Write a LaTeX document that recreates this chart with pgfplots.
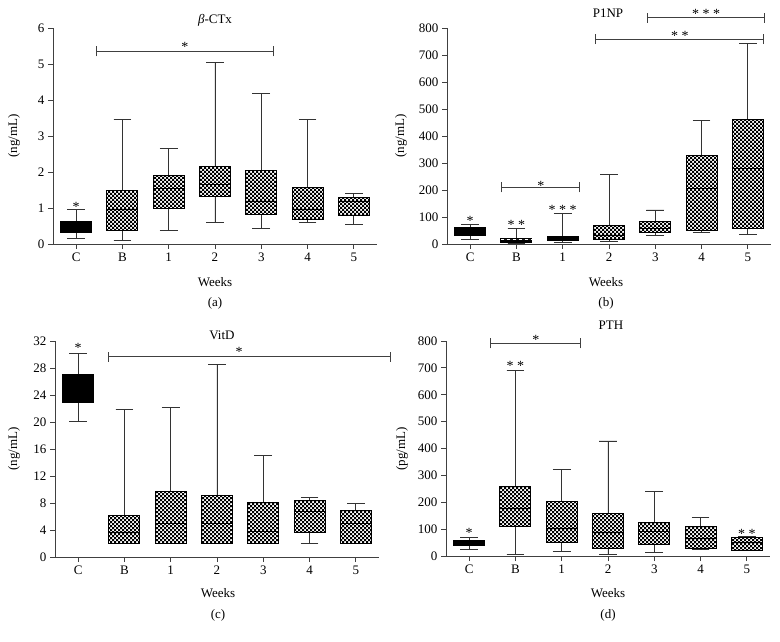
\documentclass[border=0pt]{standalone}
\usepackage{fontspec}
\setmainfont{Liberation Serif}
\usepackage{pgfplots}
\pgfplotsset{compat=1.18}
\usepgfplotslibrary{statistics}
\usetikzlibrary{patterns}

\pgfdeclarepatternformonly{chk2}{\pgfqpoint{-0.1pt}{-0.1pt}}{\pgfqpoint{4.1pt}{4.1pt}}{\pgfqpoint{4pt}{4pt}}{%
  \pgfpathrectangle{\pgfpointorigin}{\pgfqpoint{2pt}{2pt}}%
  \pgfpathrectangle{\pgfqpoint{2pt}{2pt}}{\pgfqpoint{2pt}{2pt}}%
  \pgfusepath{fill}}

\pgfplotsset{
  common/.style={
    scale only axis,
    axis x line*=bottom, axis y line*=left,
    tick align=outside,
    xtick={0,...,6}, xticklabels={C,B,1,2,3,4,5},
    major tick length=5pt,
    xmin=-0.5, xmax=6.5,
    ymin=0, clip=false,
    axis line style={black!75, line width=0.9pt},
    tick style={black!75, line width=0.9pt},
    tick label style={font=\fontsize{13}{15}\selectfont, black},
    /pgf/number format/assume math mode=true,
    boxplot/draw direction=y,
    boxplot/box extend=0.67,
    boxplot/whisker extend=0.38,
    boxplot/every whisker/.style={black!80, line width=0.9pt},
  },
  chk/.style={draw=black, line width=1pt, pattern=chk2, pattern color=black},
  blk/.style={draw=black, line width=1pt, fill=black},
}
\tikzset{sig/.style={black!75, line width=0.9pt},
         st/.style={font=\fontsize{14}{15}\selectfont, inner sep=0pt, yshift=-2.5pt}}

% x1, x2, y, half cap height (data units)
\newcommand{\sigbar}[4]{%
  \draw[sig] (axis cs:#1,#3) -- (axis cs:#2,#3);
  \draw[sig] (axis cs:#1,#3-#4) -- (axis cs:#1,#3+#4);
  \draw[sig] (axis cs:#2,#3-#4) -- (axis cs:#2,#3+#4);
}

\begin{document}
\begin{tikzpicture}[font=\fontsize{13}{15}\selectfont]
\useasboundingbox (0pt,0pt) rectangle (780pt,641pt);

% (a) beta-CTx
\begin{axis}[common, at={(53pt,397pt)}, anchor=south west, width=324pt, height=216pt,
  ymax=6, ytick={0,1,2,3,4,5,6}]
\addplot[blk, boxplot prepared={draw position=0, lower whisker=0.15, lower quartile=0.33, median=0.45, upper quartile=0.62, upper whisker=0.97}] coordinates {};
\addplot[chk, boxplot prepared={draw position=1, lower whisker=0.11, lower quartile=0.38, median=0.96, upper quartile=1.48, upper whisker=3.46}] coordinates {};
\addplot[chk, boxplot prepared={draw position=2, lower whisker=0.37, lower quartile=0.98, median=1.54, upper quartile=1.90, upper whisker=2.66}] coordinates {};
\addplot[chk, boxplot prepared={draw position=3, lower whisker=0.59, lower quartile=1.33, median=1.66, upper quartile=2.16, upper whisker=5.05}] coordinates {};
\addplot[chk, boxplot prepared={draw position=4, lower whisker=0.44, lower quartile=0.82, median=1.19, upper quartile=2.04, upper whisker=4.18}] coordinates {};
\addplot[chk, boxplot prepared={draw position=5, lower whisker=0.61, lower quartile=0.68, median=0.96, upper quartile=1.57, upper whisker=3.46}] coordinates {};
\addplot[chk, boxplot prepared={draw position=6, lower whisker=0.55, lower quartile=0.79, median=1.17, upper quartile=1.29, upper whisker=1.41}] coordinates {};
\sigbar{0.43}{4.27}{5.35}{0.14}
\node[st] at (axis cs:2.35,5.55) {*};
\node[st] at (axis cs:0,1.10) {*};
\end{axis}

% (b) P1NP
\begin{axis}[common, at={(447pt,397pt)}, anchor=south west, width=324pt, height=216pt,
  ymax=800, ytick={0,100,200,300,400,500,600,700,800}]
\addplot[blk, boxplot prepared={draw position=0, lower whisker=18, lower quartile=32, median=50, upper quartile=62, upper whisker=73}] coordinates {};
\addplot[blk, boxplot/every median/.style={white, dashed, line width=1pt}, boxplot prepared={draw position=1, lower whisker=2, lower quartile=7, median=15, upper quartile=20, upper whisker=58}] coordinates {};
\addplot[blk, boxplot prepared={draw position=2, lower whisker=5, lower quartile=12, median=18, upper quartile=27, upper whisker=114}] coordinates {};
\addplot[chk, boxplot prepared={draw position=3, lower whisker=11, lower quartile=16, median=32, upper quartile=67, upper whisker=258}] coordinates {};
\addplot[chk, boxplot prepared={draw position=4, lower whisker=30, lower quartile=41, median=59, upper quartile=83, upper whisker=126}] coordinates {};
\addplot[chk, boxplot prepared={draw position=5, lower whisker=43, lower quartile=51, median=205, upper quartile=327, upper whisker=457}] coordinates {};
\addplot[chk, boxplot prepared={draw position=6, lower whisker=36, lower quartile=56, median=278, upper quartile=460, upper whisker=741}] coordinates {};
\sigbar{0.68}{2.37}{210}{18.5}
\node[st] at (axis cs:1.53,226) {*};
\sigbar{2.71}{6.34}{759}{18.5}
\node[st] at (axis cs:4.53,779) {* *};
\sigbar{3.84}{6.36}{838}{18.5}
\node[st] at (axis cs:5.10,862) {* * *};
\node[st] at (axis cs:0,94) {*};
\node[st] at (axis cs:1,81) {* *};
\node[st] at (axis cs:2,137) {* * *};
\end{axis}

% (c) VitD
\begin{axis}[common, at={(55pt,84pt)}, anchor=south west, width=324pt, height=216pt,
  ymax=32, ytick={0,4,8,12,16,20,24,28,32}]
\addplot[blk, boxplot prepared={draw position=0, lower whisker=20.1, lower quartile=22.9, median=25, upper quartile=27.1, upper whisker=30.2}] coordinates {};
\addplot[chk, boxplot prepared={draw position=1, lower whisker=2.05, lower quartile=2.05, median=3.7, upper quartile=6.15, upper whisker=21.9}] coordinates {};
\addplot[chk, boxplot prepared={draw position=2, lower whisker=2.05, lower quartile=2.05, median=5.0, upper quartile=9.75, upper whisker=22.2}] coordinates {};
\addplot[chk, boxplot prepared={draw position=3, lower whisker=2.05, lower quartile=2.05, median=5.0, upper quartile=9.05, upper whisker=28.5}] coordinates {};
\addplot[chk, boxplot prepared={draw position=4, lower whisker=2.05, lower quartile=2.05, median=3.8, upper quartile=8.05, upper whisker=15.1}] coordinates {};
\addplot[chk, boxplot prepared={draw position=5, lower whisker=2.05, lower quartile=3.6, median=6.7, upper quartile=8.4, upper whisker=8.85}] coordinates {};
\addplot[chk, boxplot prepared={draw position=6, lower whisker=2.05, lower quartile=2.05, median=5.0, upper quartile=6.85, upper whisker=8.0}] coordinates {};
\sigbar{0.66}{6.75}{29.7}{0.74}
\node[st] at (axis cs:3.48,30.8) {*};
\node[st] at (axis cs:0,31.4) {*};
\end{axis}

% (d) PTH
\begin{axis}[common, at={(446pt,85pt)}, anchor=south west, width=324pt, height=215pt,
  ymax=800, ytick={0,100,200,300,400,500,600,700,800}]
\addplot[blk, boxplot prepared={draw position=0, lower whisker=24, lower quartile=40, median=50, upper quartile=59, upper whisker=68}] coordinates {};
\addplot[chk, boxplot prepared={draw position=1, lower whisker=5, lower quartile=109, median=175, upper quartile=260, upper whisker=689}] coordinates {};
\addplot[chk, boxplot prepared={draw position=2, lower whisker=16, lower quartile=51, median=103, upper quartile=202, upper whisker=322}] coordinates {};
\addplot[chk, boxplot prepared={draw position=3, lower whisker=7, lower quartile=27, median=89, upper quartile=160, upper whisker=428}] coordinates {};
\addplot[chk, boxplot prepared={draw position=4, lower whisker=14, lower quartile=42, median=93, upper quartile=125, upper whisker=239}] coordinates {};
\addplot[chk, boxplot prepared={draw position=5, lower whisker=24, lower quartile=27, median=66, upper quartile=109, upper whisker=144}] coordinates {};
\addplot[chk, boxplot prepared={draw position=6, lower whisker=20, lower quartile=20, median=52, upper quartile=70, upper whisker=71}] coordinates {};
\sigbar{0.47}{2.41}{791}{18.6}
\node[st] at (axis cs:1.44,813) {*};
\node[st] at (axis cs:0,94) {*};
\node[st] at (axis cs:1,716) {* *};
\node[st] at (axis cs:6,90) {* *};
\end{axis}

% titles and labels
\node at (215pt,621pt) {\textit{β}-CTx};
\node at (608pt,628pt) {P1NP};
\node at (222pt,306pt) {VitD};
\node at (611pt,316pt) {PTH};
\node[rotate=90] at (14pt,505pt) {(ng/mL)};
\node[rotate=90] at (401pt,505pt) {(ng/mL)};
\node[rotate=90] at (14pt,192pt) {(ng/mL)};
\node[rotate=90] at (402pt,192pt) {(pg/mL)};
\node at (215pt,359pt) {Weeks};
\node at (606pt,359pt) {Weeks};
\node at (218pt,48pt) {Weeks};
\node at (608pt,48pt) {Weeks};
\node at (215pt,338pt) {(a)};
\node at (606pt,338pt) {(b)};
\node at (218pt,26pt) {(c)};
\node at (608pt,26pt) {(d)};
\end{tikzpicture}
\end{document}
